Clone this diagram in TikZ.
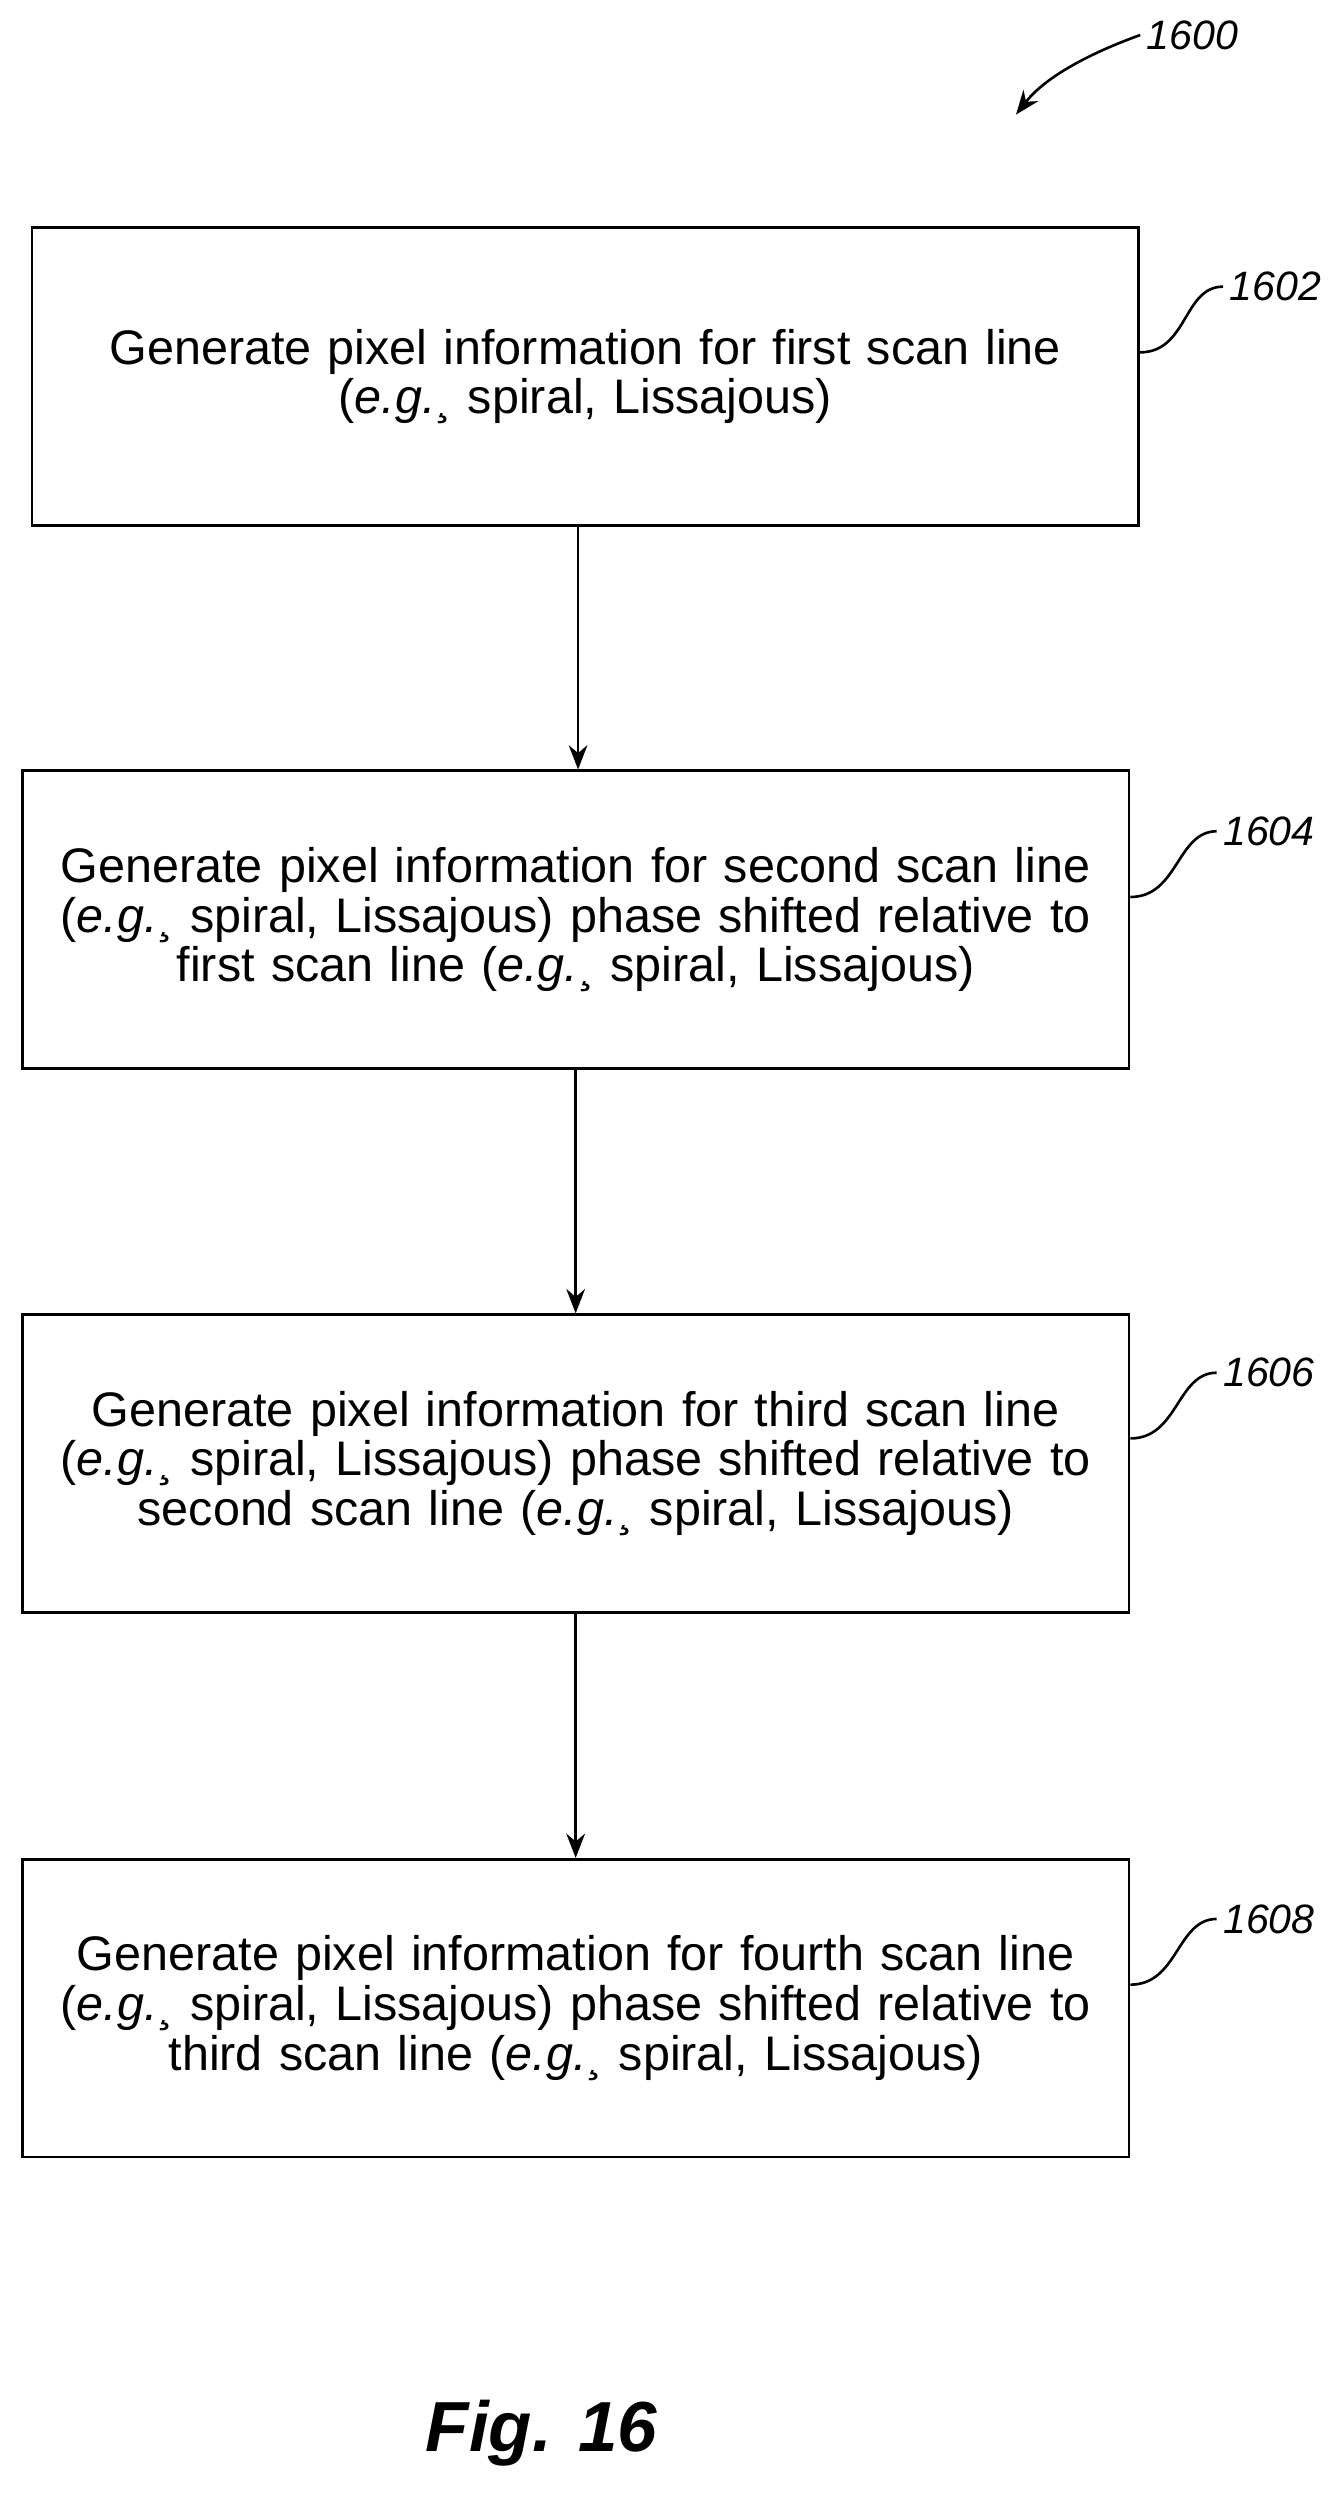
\documentclass[tikz,border=0pt]{standalone}
\usepackage{fontspec}
\setmainfont{Liberation Sans}
\usetikzlibrary{positioning,arrows.meta}
\begin{document}
\begin{tikzpicture}[x={(0.03cm,0)},y={(0,-0.03cm)},
  stepbox/.style={draw,line width=1.4pt,minimum width=20.85cm,minimum height=5.61cm,
    text width=20.6cm,align=center,font=\fontsize{26}{26.6}\selectfont},
  ref/.style={font=\fontsize{22}{24}\selectfont\itshape,anchor=west},
  flow/.style={-{Stealth[length=13pt,width=10pt]},line width=1.4pt}]
  \useasboundingbox (0,0) rectangle (843,1568);
  \node[stepbox] (B1) at (367.5,236.5) {Generate pixel information for first scan line\\(\textit{e.g.}¸ spiral, Lissajous)};
  \node[stepbox] (B2) at (361.5,577.5) {Generate pixel information for second scan line\\(\textit{e.g.}¸ spiral, Lissajous) phase shifted relative to\\first scan line (\textit{e.g.}¸ spiral, Lissajous)};
  \node[stepbox] (B3) at (361.5,919) {Generate pixel information for third scan line\\(\textit{e.g.}¸ spiral, Lissajous) phase shifted relative to\\second scan line (\textit{e.g.}¸ spiral, Lissajous)};
  \node[stepbox] (B4) at (361.5,1261) {Generate pixel information for fourth scan line\\(\textit{e.g.}¸ spiral, Lissajous) phase shifted relative to\\third scan line (\textit{e.g.}¸ spiral, Lissajous)};
  \draw[flow] (B1.south -| 363,0) -- (B2.north -| 363,0);
  \draw[flow] (B2) -- (B3);
  \draw[flow] (B3) -- (B4);
  % reference numerals
  \node[ref] (L0) at (716,22) {1600};
  \node[ref] (L1) at (768,180) {1602};
  \node[ref] (L2) at (764,522) {1604};
  \node[ref] (L3) at (764,862) {1606};
  \node[ref] (L4) at (764,1205) {1608};
  \draw[flow] (L0.west) .. controls (680,35) and (655,50) .. (638,72);
  \foreach \b/\l in {B1/L1,B2/L2,B3/L3,B4/L4}
    \draw[line width=1.4pt] (\b.east |- \l.south west) ++(0,28) .. controls +(30,0) and +(-25,0) .. (\l.west);
  \node[font=\fontsize{38}{40}\selectfont\bfseries\itshape] (F) at (340,1528) {Fig. 16};
\end{tikzpicture}
\end{document}
